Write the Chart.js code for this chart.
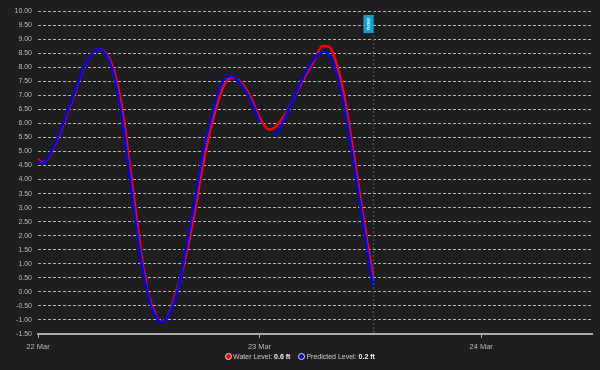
<!DOCTYPE html>
<html>
<head>
<meta charset="utf-8">
<script src="https://cdn.jsdelivr.net/npm/chart.js@4/dist/chart.umd.min.js"></script>
<style>
  html, body { margin: 0; padding: 0; background: #1e1e1e; }
  #wrap { position: relative; width: 600px; height: 370px; }
  #legend {
    position: absolute; left: 0; top: 353px; width: 600px;
    display: flex; justify-content: center; align-items: center;
    font: 7px "Liberation Sans", Arial, sans-serif; color: #ccc;
  }
  #legend .item { display: flex; align-items: center; margin: 0 4px; }
  #legend .dot {
    width: 7px; height: 7px; border-radius: 50%;
    border: 1px solid #ddd; margin-right: 1px; box-sizing: border-box;
  }
  #legend b { color: #eee; }
</style>
</head>
<body>
<div id="wrap">
  <canvas id="tideChart" width="600" height="370"></canvas>
  <div id="legend">
    <span class="item"><span class="dot" style="background:#ff0000"></span>Water Level:&nbsp;<b>0.6 ft</b></span>
    <span class="item"><span class="dot" style="background:#0000ff"></span>Predicted Level:&nbsp;<b>0.2 ft</b></span>
  </div>
</div>
<script>
// hours since 22 Mar 00:00
var dayLabels = ["22 Mar", "23 Mar", "24 Mar"];
var nowHour = 36.3;

var waterHours  = [0, 0.4, 1, 2, 3, 4, 5, 6, 6.6, 7, 8, 9, 10, 11, 11.4, 11.6, 11.8, 12, 13, 13.3, 14, 15, 15.2, 16, 17, 18, 19, 20, 21, 22, 23, 24, 25, 25.5, 26, 27, 28, 29, 30, 30.8, 31.5, 32, 33, 34, 35, 36, 36.3];
var waterLevels = [4.74, 4.60, 4.72, 5.35, 6.20, 7.10, 8.00, 8.55, 8.64, 8.60, 8.10, 6.75, 4.35, 1.80, 0.85, 0.58, 0.10, -0.15, -0.98, -1.06, -0.92, 0.05, 0.28, 1.25, 2.90, 4.75, 6.20, 7.25, 7.63, 7.45, 6.95, 6.20, 5.78, 5.82, 5.98, 6.45, 7.10, 7.72, 8.30, 8.75, 8.73, 8.45, 7.25, 5.30, 3.15, 1.10, 0.6];

var predHours  = [0, 0.5, 1, 2, 3, 4, 5, 6, 6.5, 7, 8, 9, 10, 11, 12, 13, 13.3, 14, 15, 16, 17, 18, 19, 20, 21, 22, 23, 24, 24.7, 25.45, 26, 27, 28, 29, 30, 31, 32, 33, 34, 35, 36, 36.3];
var predLevels = [4.66, 4.57, 4.75, 5.40, 6.25, 7.15, 8.02, 8.55, 8.64, 8.58, 7.95, 6.38, 3.90, 1.45, -0.25, -1.02, -1.08, -0.90, -0.07, 1.50, 3.30, 5.20, 6.50, 7.50, 7.68, 7.38, 6.82, 6.05, null, 5.58, 5.75, 6.40, 7.15, 7.82, 8.35, 8.55, 8.10, 6.85, 4.95, 2.85, 0.75, 0.2];

function toPoints(xs, ys) {
  return xs.map(function (x, i) { return { x: x, y: ys[i] }; });
}

// "now" marker
var nowLine = {
  id: 'nowLine',
  afterDatasetsDraw: function (chart) {
    var ctx = chart.ctx, area = chart.chartArea;
    var x = Math.round(chart.scales.x.getPixelForValue(nowHour)) + 0.5;
    ctx.save();
    ctx.strokeStyle = '#1b5b77';
    ctx.lineWidth = 1.5;
    ctx.setLineDash([2, 2]);
    ctx.beginPath();
    ctx.moveTo(x, area.top);
    ctx.lineTo(x, area.bottom);
    ctx.stroke();
    ctx.setLineDash([]);
    ctx.fillStyle = '#1ba0cc';
    ctx.fillRect(x - 10, area.top + 4, 10, 18);
    ctx.translate(x - 5, area.top + 13);
    ctx.rotate(-Math.PI / 2);
    ctx.fillStyle = '#e8f6fb';
    ctx.font = 'bold 6px "Liberation Sans", Arial, sans-serif';
    ctx.textAlign = 'center';
    ctx.textBaseline = 'middle';
    ctx.fillText('now', 0, 0);
    ctx.restore();
  }
};

var ctx = document.getElementById('tideChart').getContext('2d');
new Chart(ctx, {
  type: 'line',
  data: {
    datasets: [
      {
        label: 'Water Level',
        data: toPoints(waterHours, waterLevels),
        borderColor: '#ff0000',
        borderWidth: 2.5,
        pointRadius: 0,
        tension: 0.4,
        cubicInterpolationMode: 'monotone',
        order: 1
      },
      {
        label: 'Predicted Level',
        data: toPoints(predHours, predLevels),
        borderColor: '#0000ff',
        borderWidth: 2.5,
        pointRadius: 0,
        tension: 0.4,
        cubicInterpolationMode: 'monotone',
        spanGaps: false,
        order: 0
      }
    ]
  },
  options: {
    responsive: false,
    animation: false,
    layout: { padding: { top: 11, right: 8, bottom: 16, left: 0 } },
    plugins: { legend: { display: false }, tooltip: { enabled: false } },
    scales: {
      x: {
        type: 'linear',
        min: 0,
        max: 60,
        afterBuildTicks: function (scale) {
          scale.ticks = [{ value: 0 }, { value: 24 }, { value: 48 }];
        },
        afterFit: function (scale) { scale.height = 20; },
        ticks: {
          color: '#bbb',
          font: { family: '"Liberation Sans", Arial, sans-serif', size: 7.5 },
          padding: 4,
          maxRotation: 0,
          callback: function (v) { return dayLabels[v / 24]; }
        },
        grid: { drawOnChartArea: false, drawTicks: true, tickLength: 4, color: '#aaa' },
        border: { display: true, color: '#aaa', width: 2 }
      },
      y: {
        min: -1.5,
        max: 10,
        afterFit: function (scale) { scale.width = 38; },
        ticks: {
          stepSize: 0.5,
          color: '#bbb',
          padding: 6,
          font: { family: '"Liberation Sans", Arial, sans-serif', size: 7 },
          callback: function (v) { return v.toFixed(2); }
        },
        grid: { color: 'rgba(215,215,215,0.8)', lineWidth: 1, drawTicks: false },
        border: { display: false, dash: [3, 2] }
      }
    }
  },
  plugins: [nowLine]
});
</script>
</body>
</html>
